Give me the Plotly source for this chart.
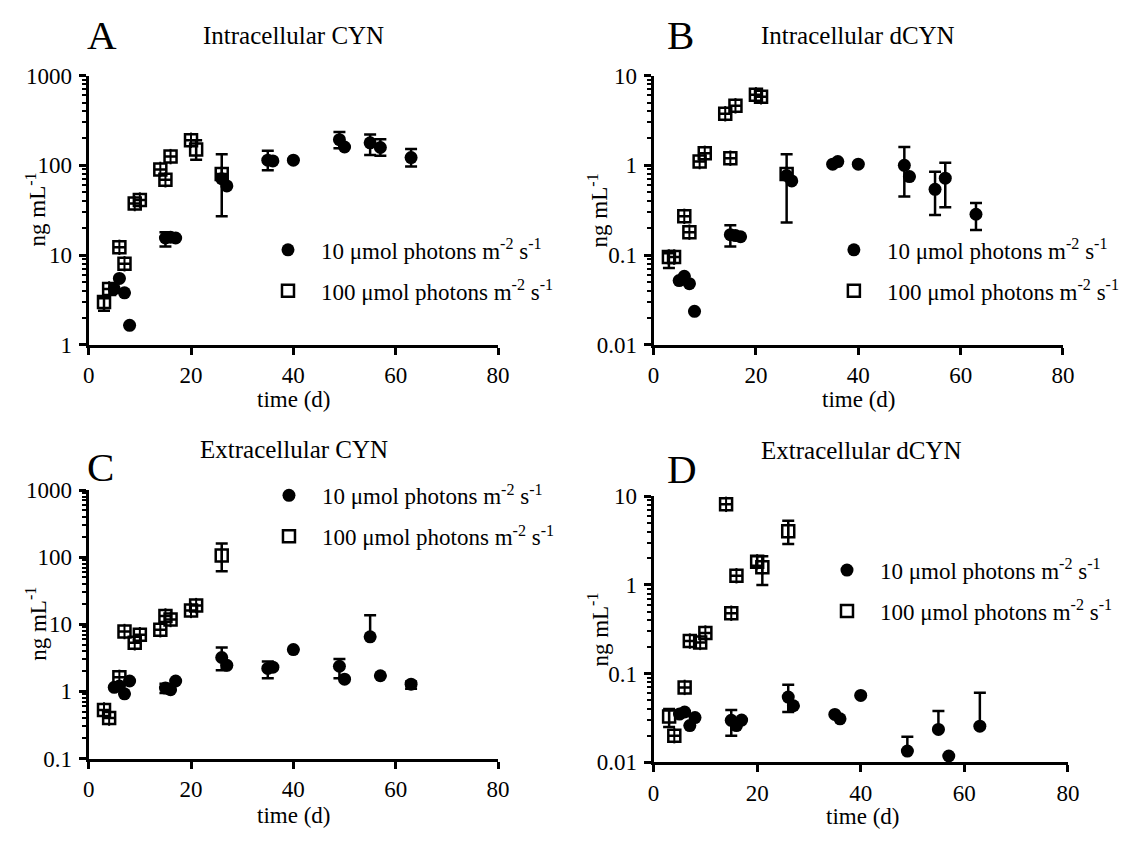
import plotly.graph_objects as go

FONT = "Liberation Serif"
W, H = 1136, 844

# ---------------- data ----------------
t_low = [5, 6, 7, 8, 15, 16, 17, 26, 27, 35, 36, 40, 49, 50, 55, 57, 63]
t_low_D = [5, 6, 7, 8, 15, 16, 17, 26, 27, 35, 36, 40, 49, 55, 57, 63]
t_high = [3, 4, 6, 7, 9, 10, 14, 15, 16, 20, 21, 26]

N = None
# Panel A: Intracellular CYN
A_low = [4.2, 5.5, 3.8, 1.65, 15.5, 15.8, 15.5, 71, 59, 114, 112, 114, 193, 160, 178, 158, 122]
A_low_hi = [N, N, N, N, 18, N, N, 133, N, 145, N, N, 235, N, 220, 195, 152]
A_low_lo = [N, N, N, N, 12.5, N, N, 27, N, 88, N, N, 155, N, 130, 128, 97]
A_high = [3.0, 4.2, 12.2, 8.0, 37.5, 41, 90, 69, 125, 190, 150, 80]
A_high_hi = [3.3, N, N, N, N, N, N, N, N, N, 190, N]
A_high_lo = [2.4, N, N, N, N, N, N, N, N, N, 115, N]

# Panel B: Intracellular dCYN
B_low = [0.052, 0.058, 0.048, 0.0236, 0.169, 0.165, 0.16, 0.77, 0.67, 1.03, 1.1, 1.03, 1.0, 0.75, 0.54, 0.72, 0.285]
B_low_hi = [N, N, N, N, 0.215, N, N, 1.33, N, N, N, N, 1.6, N, 0.85, 1.07, 0.38]
B_low_lo = [N, N, N, N, 0.125, N, N, 0.23, N, N, N, N, 0.45, N, 0.28, 0.34, 0.19]
B_high = [0.095, 0.095, 0.27, 0.18, 1.1, 1.36, 3.75, 1.2, 4.6, 6.1, 5.8, 0.8]
B_high_hi = [0.105, N, N, N, N, N, N, N, N, N, N, N]
B_high_lo = [0.072, N, N, N, N, N, N, N, N, N, N, N]

# Panel C: Extracellular CYN
C_low = [1.15, 1.2, 0.92, 1.43, 1.12, 1.06, 1.43, 3.2, 2.45, 2.2, 2.3, 4.2, 2.37, 1.52, 6.5, 1.71, 1.28]
C_low_hi = [N, N, N, N, 1.3, N, N, 4.5, N, 2.8, N, N, 3.05, N, 13.6, N, 1.4]
C_low_lo = [N, N, N, N, 0.95, N, N, 2.07, N, 1.57, N, N, 1.57, N, 6.5, N, 1.1]
C_high = [0.53, 0.40, 1.62, 7.8, 5.3, 7.0, 8.3, 13.3, 11.8, 16.1, 19, 106]
C_high_hi = [N, N, N, N, N, N, N, N, N, N, N, 160]
C_high_lo = [N, N, N, N, N, N, N, N, N, N, N, 62]

# Panel D: Extracellular dCYN
D_low = [0.035, 0.037, 0.026, 0.032, 0.0298, 0.026, 0.030, 0.0545, 0.0435, 0.0347, 0.031, 0.0568, 0.0134, 0.0235, 0.0118, 0.0256]
D_low_hi = [N, N, N, N, 0.039, N, N, 0.075, N, N, N, N, 0.0195, 0.038, N, 0.061]
D_low_lo = [N, N, N, N, 0.020, N, N, 0.037, N, N, N, N, 0.0134, 0.0235, N, 0.0256]
D_high = [0.033, 0.020, 0.07, 0.233, 0.225, 0.287, 8.1, 0.48, 1.27, 1.82, 1.58, 4.03]
D_high_hi = [0.040, N, N, N, N, N, N, N, N, 2.1, 2.1, 5.3]
D_high_lo = [0.025, N, N, N, N, N, N, N, N, 1.65, 1.0, 2.9]

x_ticks = [0, 20, 40, 60, 80]
y_ticks_A = [1, 10, 100, 1000]
y_labels_A = ["1", "10", "100", "1000"]
y_ticks_B = [0.01, 0.1, 1, 10]
y_labels_B = ["0.01", "0.1", "1", "10"]
y_ticks_C = [0.1, 1, 10, 100, 1000]
y_labels_C = ["0.1", "1", "10", "100", "1000"]
y_ticks_D = [0.01, 0.1, 1, 10]
y_labels_D = ["0.01", "0.1", "1", "10"]

label_low = "10 \u03bcmol photons m<sup>-2</sup> s<sup>-1</sup>"
label_high = "100 \u03bcmol photons m<sup>-2</sup> s<sup>-1</sup>"

# ---------------- layout geometry (pixels) ----------------
def px_x(p):
    return p / W

def px_y(p):
    return 1 - p / H

panels = {
    "A": dict(xd=[84, 500], yd=[65.5, 343], yr=[0, 3], yt=y_ticks_A, yl=y_labels_A,
              low=(t_low, A_low, A_low_hi, A_low_lo), high=(t_high, A_high, A_high_hi, A_high_lo),
              title="Intracellular CYN", tpos=(292.5, 24), letter="A", lpos=(97.5, 24),
              ytpos=(31, 204), xtpos=(292.5, 399), leg=(286, 250)),
    "B": dict(xd=[658, 1074], yd=[65.5, 343], yr=[-2, 1], yt=y_ticks_B, yl=y_labels_B,
              low=(t_low, B_low, B_low_hi, B_low_lo), high=(t_high, B_high, B_high_hi, B_high_lo),
              title="Intracellular dCYN", tpos=(865.5, 24), letter="B", lpos=(685, 24),
              ytpos=(602, 204), xtpos=(866, 399), leg=(861, 250)),
    "C": dict(xd=[84, 500], yd=[492.7, 769.3], yr=[-1, 3], yt=y_ticks_C, yl=y_labels_C,
              low=(t_low, C_low, C_low_hi, C_low_lo), high=(t_high, C_high, C_high_hi, C_high_lo),
              title="Extracellular CYN", tpos=(292.5, 451), letter="C", lpos=(96.5, 469),
              ytpos=(31, 631), xtpos=(292.5, 828), leg=(287, 503)),
    "D": dict(xd=[658, 1079], yd=[499, 773.3], yr=[-2, 1], yt=y_ticks_D, yl=y_labels_D,
              low=(t_low_D, D_low, D_low_hi, D_low_lo), high=(t_high, D_high, D_high_hi, D_high_lo),
              title="Extracellular dCYN", tpos=(869.5, 452), letter="D", lpos=(687, 471),
              ytpos=(602, 636), xtpos=(870, 829), leg=(854, 580)),
}

fig = go.Figure()
layout = dict(
    width=W, height=H, margin=dict(l=0, r=0, t=0, b=0),
    paper_bgcolor="white", plot_bgcolor="white",
    font=dict(family=FONT, color="black", size=23),
    annotations=[],
)


def err(y, hi, lo):
    plus = [None if h is None else h - v for v, h in zip(y, hi)]
    minus = [None if l is None else v - l for v, l in zip(y, lo)]
    return plus, minus


for i, key in enumerate(["A", "B", "C", "D"], start=1):
    p = panels[key]
    xa = "x" if i == 1 else f"x{i}"
    ya = "y" if i == 1 else f"y{i}"
    leg = "legend" if i == 1 else f"legend{i}"

    th, yh, hh, lh = p["high"]
    tl, yl_, hl, ll = p["low"]

    ph, mh = err(yh, hh, lh)
    pl, ml = err(yl_, hl, ll)

    # open squares (100 umol)
    fig.add_trace(go.Scatter(
        x=th, y=yh, mode="markers", xaxis=xa, yaxis=ya, legend=leg,
        name=label_high, legendgroup=f"h{i}", legendrank=2,
        marker=dict(symbol="square-open", size=12, color="black", line=dict(width=2.5, color="black")),
        error_y=dict(type="data", symmetric=False, array=ph, arrayminus=mh,
                     color="black", thickness=2.5, width=6),
        cliponaxis=False,
    ))
    # centre line inside open squares (error bar shown through the symbol)
    fig.add_trace(go.Scatter(
        x=th, y=yh, mode="markers", xaxis=xa, yaxis=ya, showlegend=False,
        marker=dict(symbol="line-ns-open", size=11, color="black", line=dict(width=2, color="black")),
        hoverinfo="skip", cliponaxis=False,
    ))
    # filled circles (10 umol)
    fig.add_trace(go.Scatter(
        x=tl, y=yl_, mode="markers", xaxis=xa, yaxis=ya, legend=leg,
        name=label_low, legendgroup=f"l{i}", legendrank=1,
        marker=dict(symbol="circle", size=13, color="black"),
        error_y=dict(type="data", symmetric=False, array=pl, arrayminus=ml,
                     color="black", thickness=2.5, width=6),
        cliponaxis=False,
    ))

    lo_d, hi_d = p["yr"]
    minor_vals = [m * 10 ** d for d in range(lo_d, hi_d) for m in range(2, 10)]

    layout["xaxis" if i == 1 else f"xaxis{i}"] = dict(
        domain=[px_x(p["xd"][0]), px_x(p["xd"][1])], anchor=ya,
        range=[0, 80], tickvals=x_ticks, ticktext=[str(v) for v in x_ticks],
        showline=True, linewidth=3, linecolor="black", mirror=False,
        ticks="outside", ticklen=7, tickwidth=2.5, tickcolor="black",
        showgrid=False, zeroline=False, ticklabelstandoff=1,
        tickfont=dict(family=FONT, size=23, color="black"),
    )
    layout["yaxis" if i == 1 else f"yaxis{i}"] = dict(
        domain=[px_y(p["yd"][1]), px_y(p["yd"][0])], anchor=xa,
        type="log", range=[lo_d, hi_d], tickvals=p["yt"], ticktext=p["yl"],
        showline=True, linewidth=3, linecolor="black", mirror=False,
        ticks="outside", ticklen=7, tickwidth=2.5, tickcolor="black",
        showgrid=False, zeroline=False, ticklabelstandoff=2,
        tickfont=dict(family=FONT, size=23, color="black"),
        minor=dict(tickvals=minor_vals, ticks="outside", ticklen=4, tickwidth=2,
                   tickcolor="black", showgrid=False),
    )

    lx, ly = p["leg"]
    layout[leg] = dict(
        x=px_x(lx - 33), y=px_y(ly - 27), xanchor="left", yanchor="top",
        bgcolor="rgba(0,0,0,0)", borderwidth=0, itemwidth=56,
        font=dict(family=FONT, size=23, color="black"),
        tracegroupgap=8, traceorder="grouped", itemclick=False,
    )

    ann = layout["annotations"]
    ann.append(dict(text=p["title"], x=px_x(p["tpos"][0]), y=px_y(p["tpos"][1]),
                    xref="paper", yref="paper", xanchor="center", yanchor="middle",
                    showarrow=False, font=dict(family=FONT, size=25, color="black")))
    ann.append(dict(text=p["letter"], x=px_x(p["lpos"][0]), y=px_y(p["lpos"][1]),
                    xref="paper", yref="paper", xanchor="center", yanchor="middle",
                    showarrow=False, font=dict(family=FONT, size=41, color="black")))
    ann.append(dict(text="ng mL<sup>-1</sup>", x=px_x(p["ytpos"][0]), y=px_y(p["ytpos"][1]),
                    xref="paper", yref="paper", xanchor="center", yanchor="middle",
                    textangle=-90, showarrow=False,
                    font=dict(family=FONT, size=23, color="black")))
    ann.append(dict(text="time (d)", x=px_x(p["xtpos"][0]), y=px_y(p["xtpos"][1]),
                    xref="paper", yref="paper", xanchor="center", yanchor="middle",
                    showarrow=False, font=dict(family=FONT, size=23, color="black")))

fig.update_layout(**layout)
fig.write_html("out.html", config={"displayModeBar": False},
               post_script="document.body.style.margin='0px';")
